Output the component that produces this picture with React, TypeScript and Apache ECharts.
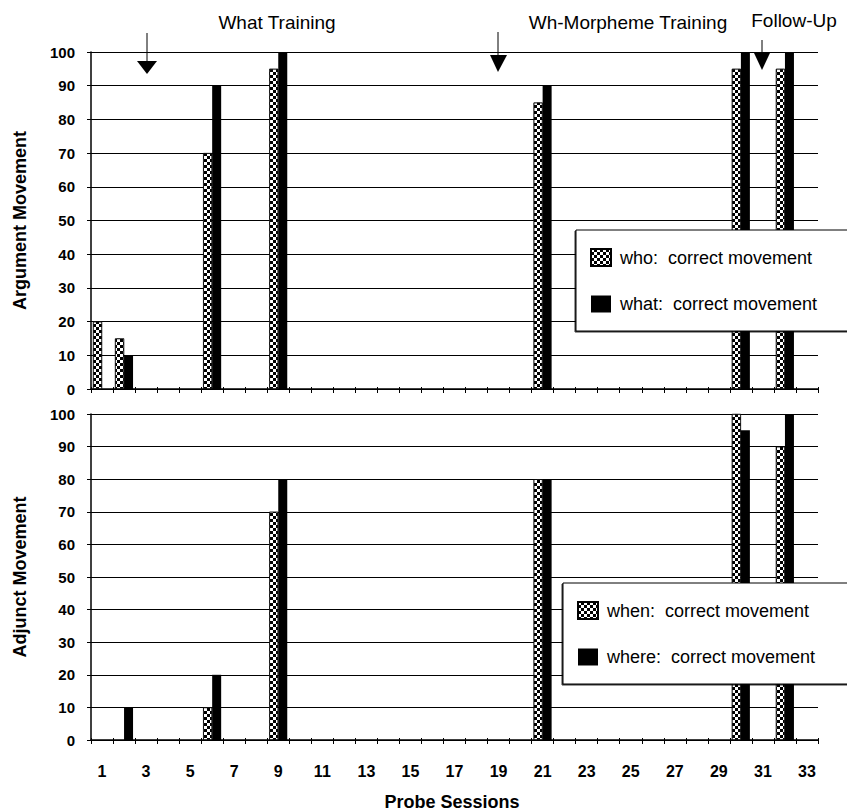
import React, { useEffect, useRef } from "react";
import * as echarts from "echarts";

const sessions = ["1","2","3","4","5","6","7","8","9","10","11","12","13","14","15","16","17","18","19","20","21","22","23","24","25","26","27","28","29","30","31","32","33"];

const whoSessions = [1, 2, 6, 9, 21, 30, 32];
const whoValues = [20, 15, 70, 95, 85, 95, 95];
const whatSessions = [2, 6, 9, 21, 30, 32];
const whatValues = [10, 90, 100, 90, 100, 100];

const whenSessions = [6, 9, 21, 30, 32];
const whenValues = [10, 70, 80, 100, 90];
const whereSessions = [2, 6, 9, 21, 30, 32];
const whereValues = [10, 20, 80, 80, 95, 100];

const yTicks = [0, 10, 20, 30, 40, 50, 60, 70, 80, 90, 100];

const names = {
  who: "who:  correct movement",
  what: "what:  correct movement",
  when: "when:  correct movement",
  where: "where:  correct movement",
};

const toData = (s: number[], v: number[]) => s.map((x, i) => [String(x), v[i]]);

const FONT = "'Liberation Sans', Arial, Helvetica, sans-serif";

const checker = {
  symbol: "rect",
  symbolSize: 1,
  dashArrayX: [[3, 3], [0, 3, 3, 0]],
  dashArrayY: [3, 0],
  color: "#000",
  backgroundColor: "#fff",
};

export default function App() {
  const ref = useRef<HTMLDivElement>(null);
  useEffect(() => {
    document.body.style.margin = "0";
    const chart = echarts.init(ref.current!, null, { renderer: "svg" });
    const grids = [
      { left: 91, right: 29, top: 52, height: 337 },
      { left: 91, right: 29, top: 414, height: 326 },
    ];
    const mainX = (gi: number, labels: boolean) => ({
      type: "category",
      gridIndex: gi,
      data: sessions,
      position: "bottom",
      axisLine: { show: true, lineStyle: { color: "#000", width: 1.5 } },
      axisTick: { show: true, interval: 0, length: 4, lineStyle: { color: "#000", width: 1 } },
      axisLabel: {
        show: labels,
        interval: 1,
        margin: 23,
        fontSize: 16,
        fontWeight: "bold",
        color: "#000",
        fontFamily: FONT,
      },
      splitLine: { show: false },
    });
    const overlayX = (gi: number, h: number) => ({
      type: "category",
      gridIndex: gi,
      data: sessions,
      position: "top",
      offset: -h,
      axisLine: { show: false },
      axisTick: { show: true, interval: 0, length: 2, lineStyle: { color: "#000", width: 1 } },
      axisLabel: { show: false },
      splitLine: { show: false },
    });
    const yAx = (gi: number, name: string) => ({
      type: "value",
      gridIndex: gi,
      min: yTicks[0],
      max: yTicks[yTicks.length - 1],
      interval: 10,
      axisLine: { show: true, lineStyle: { color: "#000", width: 1.5 } },
      axisTick: { show: true, length: 4, lineStyle: { color: "#000", width: 1 } },
      axisLabel: { margin: 16, fontSize: 15, fontWeight: "bold", color: "#000", fontFamily: FONT },
      splitLine: { show: true, lineStyle: { color: "#000", width: 1.2 } },
      name,
      nameLocation: "middle",
      nameGap: 62,
      nameTextStyle: { fontSize: 18, fontWeight: "bold", color: "#000", fontFamily: FONT },
    });
    const legendBase = {
      orient: "vertical",
      icon: "rect",
      itemWidth: 20,
      itemHeight: 17,
      itemGap: 28,
      backgroundColor: "#fff",
      borderColor: "#000",
      borderWidth: 1,
      shadowColor: "rgba(0,0,0,0.8)",
      shadowOffsetX: -1,
      shadowOffsetY: 1,
      selectedMode: false,
      textStyle: { fontSize: 18, color: "#000", fontFamily: FONT, padding: [0, 0, 0, 4] },
    };
    const checkerSeries = (name: string, xi: number, yi: number, data: any[]) => ({
      type: "bar",
      name,
      xAxisIndex: xi,
      yAxisIndex: yi,
      data,
      barWidth: 9,
      barGap: "0%",
      itemStyle: { color: "#fff", borderColor: "#000", borderWidth: 0.6, decal: checker },
    });
    const blackSeries = (name: string, xi: number, yi: number, data: any[]) => ({
      type: "bar",
      name,
      xAxisIndex: xi,
      yAxisIndex: yi,
      data,
      barWidth: 9,
      barGap: "0%",
      itemStyle: { color: "#000" },
    });
    const option: any = {
      animation: false,
      textStyle: { fontFamily: FONT },
      grid: grids,
      xAxis: [mainX(0, false), mainX(1, true), overlayX(0, 337), overlayX(1, 326)],
      yAxis: [yAx(0, "Argument Movement"), yAx(1, "Adjunct Movement")],
      legend: [
        { ...legendBase, data: [names.who, names.what], left: 576, top: 230, padding: [18, 50, 18, 14] },
        { ...legendBase, data: [names.when, names.where], left: 563, top: 583, padding: [18, 50, 18, 14] },
      ],
      series: [
        checkerSeries(names.who, 0, 0, toData(whoSessions, whoValues)),
        blackSeries(names.what, 0, 0, toData(whatSessions, whatValues)),
        checkerSeries(names.when, 1, 1, toData(whenSessions, whenValues)),
        blackSeries(names.where, 1, 1, toData(whereSessions, whereValues)),
      ],
      graphic: [
        { type: "text", x: 277, y: 22, style: { text: "What Training", fill: "#000", font: `19px ${FONT}`, align: "center", verticalAlign: "middle" } },
        { type: "text", x: 628, y: 22, style: { text: "Wh-Morpheme Training", fill: "#000", font: `19px ${FONT}`, align: "center", verticalAlign: "middle" } },
        { type: "text", x: 794, y: 20, style: { text: "Follow-Up", fill: "#000", font: `19px ${FONT}`, align: "center", verticalAlign: "middle" } },
        { type: "line", shape: { x1: 147, y1: 33, x2: 147, y2: 62 }, style: { stroke: "#000", lineWidth: 1 } },
        { type: "polygon", shape: { points: [[137, 61], [157, 61], [147, 74]] }, style: { fill: "#000" } },
        { type: "line", shape: { x1: 498, y1: 32, x2: 498, y2: 55 }, style: { stroke: "#000", lineWidth: 1 } },
        { type: "polygon", shape: { points: [[490, 55], [507, 55], [498, 72]] }, style: { fill: "#000" } },
        { type: "line", shape: { x1: 762, y1: 40, x2: 762, y2: 53 }, style: { stroke: "#000", lineWidth: 1 } },
        { type: "polygon", shape: { points: [[754, 53], [770, 53], [762, 70]] }, style: { fill: "#000" } },
        { type: "text", x: 452, y: 802, style: { text: "Probe Sessions", fill: "#000", font: `bold 18px ${FONT}`, align: "center", verticalAlign: "middle" } },
      ],
    };
    chart.setOption(option);
    return () => chart.dispose();
  }, []);
  return <div ref={ref} style={{ width: 847, height: 811 }} />;
}
